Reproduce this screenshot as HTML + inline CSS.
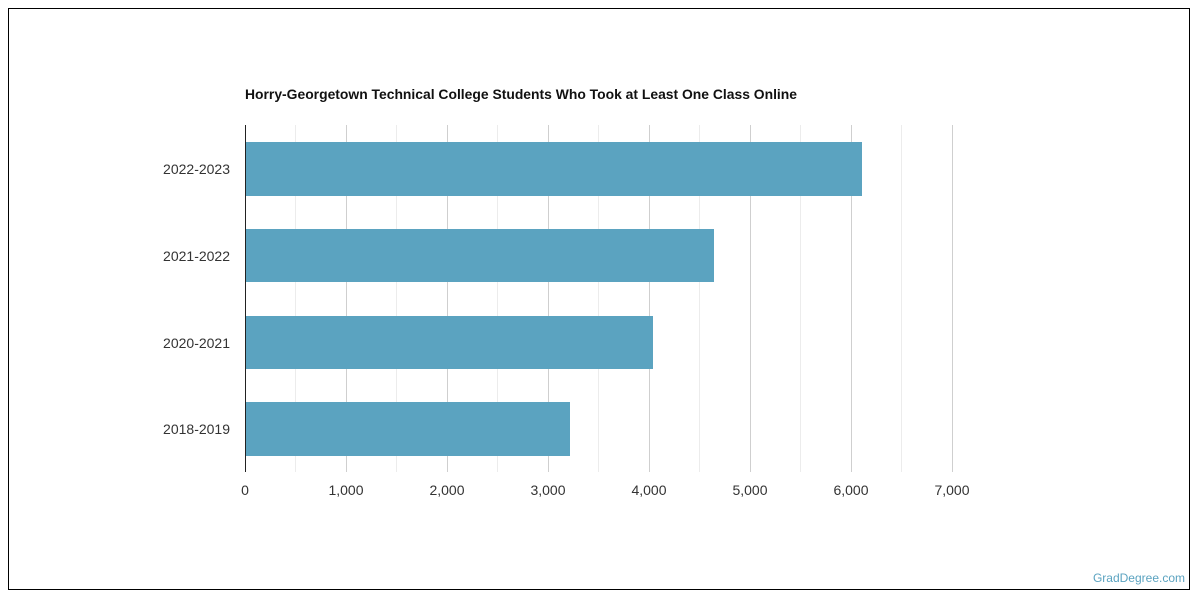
<!DOCTYPE html>
<html><head><meta charset="utf-8"><style>
html,body{margin:0;padding:0;background:#fff;}
svg{display:block;font-family:"Liberation Sans",sans-serif;}
</style></head><body>
<svg width="1200" height="600" xmlns="http://www.w3.org/2000/svg">
<rect x="8.5" y="8.5" width="1181" height="581" fill="#fff" stroke="#000" stroke-width="1"/>
<text x="245" y="99" font-size="14" font-weight="bold" fill="#111" textLength="552" lengthAdjust="spacingAndGlyphs">Horry-Georgetown Technical College Students Who Took at Least One Class Online</text>
<g stroke="#ececec" stroke-width="1">
<line x1="295.5" y1="125" x2="295.5" y2="472"/><line x1="396.5" y1="125" x2="396.5" y2="472"/>
<line x1="497.5" y1="125" x2="497.5" y2="472"/><line x1="598.5" y1="125" x2="598.5" y2="472"/>
<line x1="699.5" y1="125" x2="699.5" y2="472"/><line x1="800.5" y1="125" x2="800.5" y2="472"/>
<line x1="901.5" y1="125" x2="901.5" y2="472"/>
</g>
<g stroke="#cfcfcf" stroke-width="1">
<line x1="346.5" y1="125" x2="346.5" y2="472"/><line x1="447.5" y1="125" x2="447.5" y2="472"/>
<line x1="548.5" y1="125" x2="548.5" y2="472"/><line x1="649.5" y1="125" x2="649.5" y2="472"/>
<line x1="750.5" y1="125" x2="750.5" y2="472"/><line x1="851.5" y1="125" x2="851.5" y2="472"/>
<line x1="952.5" y1="125" x2="952.5" y2="472"/>
</g>
<g fill="#5ba3c0">
<rect x="245" y="142" width="617" height="54"/>
<rect x="245" y="229" width="469" height="53"/>
<rect x="245" y="316" width="408" height="53"/>
<rect x="245" y="402" width="325" height="54"/>
</g>
<line x1="245.5" y1="125" x2="245.5" y2="472" stroke="#222" stroke-width="1"/>
<g font-size="14" fill="#333" text-anchor="end">
<text x="230" y="174">2022-2023</text>
<text x="230" y="261">2021-2022</text>
<text x="230" y="348">2020-2021</text>
<text x="230" y="434">2018-2019</text>
</g>
<g font-size="14" fill="#333" text-anchor="middle">
<text x="245" y="495">0</text><text x="346" y="495">1,000</text><text x="447" y="495">2,000</text>
<text x="548" y="495">3,000</text><text x="649" y="495">4,000</text><text x="750" y="495">5,000</text>
<text x="851" y="495">6,000</text><text x="952" y="495">7,000</text>
</g>
<text x="1185" y="582" font-size="12" fill="#5ba3c0" text-anchor="end">GradDegree.com</text>
</svg>
</body></html>
